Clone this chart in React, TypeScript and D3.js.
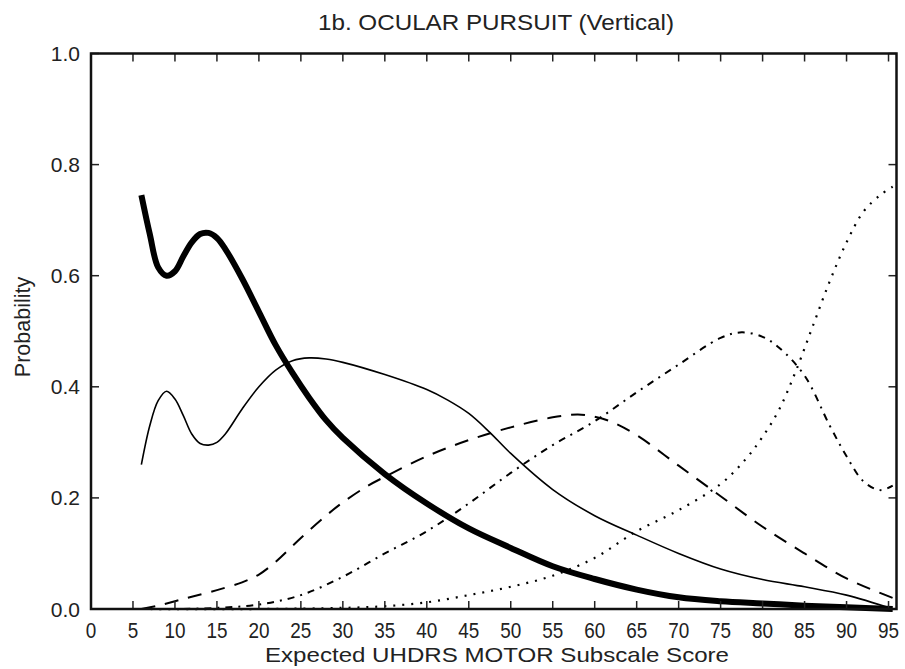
import * as d3 from 'd3';
import React, { useEffect, useRef } from 'react';

// values, x = expected UHDRS motor score, y = probability
const thickX = [6, 7, 8, 9, 10, 11, 12, 13, 14, 15, 16, 18, 20, 22, 24, 26, 28, 30, 35, 40, 45, 50, 55, 60, 65, 70, 75, 80, 85, 90, 95.5];
const thickY = [0.745, 0.675, 0.615, 0.6, 0.608, 0.635, 0.66, 0.675, 0.677, 0.668, 0.648, 0.595, 0.535, 0.475, 0.425, 0.38, 0.34, 0.308, 0.243, 0.19, 0.145, 0.11, 0.077, 0.054, 0.035, 0.021, 0.014, 0.01, 0.006, 0.003, 0.0];

const thinX = [6, 7, 8, 9, 10, 11, 12, 13, 14, 15, 16, 18, 20, 22, 24, 26, 28, 30, 35, 40, 42.5, 45, 47.5, 50, 55, 60, 65, 70, 75, 80, 85, 90, 95.5];
const thinY = [0.26, 0.33, 0.375, 0.392, 0.378, 0.348, 0.315, 0.298, 0.295, 0.3, 0.315, 0.36, 0.4, 0.43, 0.447, 0.452, 0.45, 0.444, 0.422, 0.395, 0.376, 0.352, 0.318, 0.28, 0.215, 0.168, 0.133, 0.1, 0.072, 0.053, 0.04, 0.025, 0.0];

const dashX = [6, 8, 10, 12, 15, 18, 20, 22, 25, 28, 30, 33, 35, 40, 45, 50, 55, 58, 60, 62, 65, 70, 75, 80, 85, 90, 95.5];
const dashY = [0.0, 0.006, 0.014, 0.022, 0.034, 0.048, 0.062, 0.085, 0.128, 0.168, 0.192, 0.222, 0.238, 0.275, 0.304, 0.327, 0.345, 0.35, 0.346, 0.337, 0.313, 0.258, 0.203, 0.148, 0.1, 0.055, 0.02];

const dashDotX = [6, 10, 15, 20, 25, 30, 35, 40, 45, 50, 55, 60, 65, 70, 75, 77.5, 80, 82, 85, 88, 90, 92, 94, 95.5];
const dashDotY = [0.0, 0.0, 0.002, 0.008, 0.025, 0.058, 0.1, 0.14, 0.19, 0.245, 0.295, 0.338, 0.39, 0.44, 0.488, 0.498, 0.49, 0.47, 0.42, 0.33, 0.275, 0.23, 0.214, 0.222];

const dotX = [6, 20, 30, 35, 40, 45, 50, 55, 60, 65, 70, 75, 78, 80, 82, 84, 86, 88, 90, 92, 94, 95.5];
const dotY = [0.0, 0.0, 0.002, 0.005, 0.012, 0.025, 0.04, 0.06, 0.092, 0.14, 0.178, 0.225, 0.27, 0.31, 0.36, 0.43, 0.51, 0.59, 0.66, 0.715, 0.745, 0.76];

const xTicks = d3.range(0, 96, 5);
const yTicks = [0, 0.2, 0.4, 0.6, 0.8, 1.0];

const series = [
    { xs: thickX, ys: thickY, width: 6, dash: null },
    { xs: thinX, ys: thinY, width: 1.6, dash: null },
    { xs: dashX, ys: dashY, width: 2, dash: '14,10' },
    { xs: dashDotX, ys: dashDotY, width: 2, dash: '7,6,2,6' },
    { xs: dotX, ys: dotY, width: 2.2, dash: '2,7' },
];

const W = 905, H = 669;
const FONT = '"Liberation Sans", Arial, sans-serif';

export default function App() {
    const svgRef = useRef(null);

    useEffect(() => {
        const svg = d3.select(svgRef.current);
        svg.selectAll('*').remove();

        const left = 91, right = 896.5, top = 53.5, bottom = 609;
        const x = d3.scaleLinear().domain([0, 95.95]).range([left, right]);
        const y = d3.scaleLinear().domain([0, 1]).range([bottom, top]);

        svg.append('rect').attr('width', W).attr('height', H).attr('fill', '#fff');

        // curves first, frame drawn over them
        const line = d3.line().curve(d3.curveCatmullRom.alpha(0.5));
        series.forEach((s) => {
            const pts = s.xs.map((v, i) => [x(v), y(s.ys[i])]);
            const p = svg.append('path')
                .attr('d', line(pts))
                .attr('fill', 'none')
                .attr('stroke', '#000')
                .attr('stroke-width', s.width)
                .attr('stroke-linejoin', 'round');
            if (s.dash) p.attr('stroke-dasharray', s.dash);
        });

        // inward ticks on all four sides
        const tickLen = 8;
        const g = svg.append('g').attr('stroke', '#222').attr('stroke-width', 1.5);
        xTicks.forEach((t) => {
            g.append('line').attr('x1', x(t)).attr('x2', x(t)).attr('y1', bottom).attr('y2', bottom - tickLen);
            g.append('line').attr('x1', x(t)).attr('x2', x(t)).attr('y1', top).attr('y2', top + tickLen);
        });
        yTicks.forEach((t) => {
            g.append('line').attr('x1', left).attr('x2', left + tickLen).attr('y1', y(t)).attr('y2', y(t));
            g.append('line').attr('x1', right).attr('x2', right - tickLen).attr('y1', y(t)).attr('y2', y(t));
        });

        svg.append('rect')
            .attr('x', left).attr('y', top)
            .attr('width', right - left).attr('height', bottom - top)
            .attr('fill', 'none').attr('stroke', '#111').attr('stroke-width', 2.5);

        // x tick labels look condensed in the reference
        svg.selectAll('text.xt').data(xTicks).join('text')
            .attr('class', 'xt')
            .attr('transform', (d) => `translate(${x(d)},638) scale(0.86,1)`)
            .attr('text-anchor', 'middle')
            .attr('font-family', FONT).attr('font-size', 22).attr('fill', '#222')
            .text((d) => d);

        svg.selectAll('text.yt').data(yTicks).join('text')
            .attr('class', 'yt')
            .attr('x', 80).attr('y', (d) => y(d) + 7.5)
            .attr('text-anchor', 'end')
            .attr('font-family', FONT).attr('font-size', 21).attr('fill', '#222')
            .text((d) => d3.format('.1f')(d));

        svg.append('text')
            .attr('x', 496).attr('y', 30)
            .attr('text-anchor', 'middle')
            .attr('font-family', FONT).attr('font-size', 22).attr('fill', '#222')
            .attr('textLength', 356).attr('lengthAdjust', 'spacingAndGlyphs')
            .text('1b. OCULAR PURSUIT (Vertical)');

        svg.append('text')
            .attr('x', 497).attr('y', 662)
            .attr('text-anchor', 'middle')
            .attr('font-family', FONT).attr('font-size', 21).attr('fill', '#222')
            .attr('textLength', 464).attr('lengthAdjust', 'spacingAndGlyphs')
            .text('Expected UHDRS MOTOR Subscale Score');

        svg.append('text')
            .attr('transform', 'translate(30,327) rotate(-90)')
            .attr('text-anchor', 'middle')
            .attr('font-family', FONT).attr('font-size', 21.5).attr('fill', '#222')
            .text('Probability');
    }, []);

    return (
        <svg ref={svgRef} width={W} height={H}
            style={{ position: 'absolute', left: 0, top: 0, display: 'block' }} />
    );
}
